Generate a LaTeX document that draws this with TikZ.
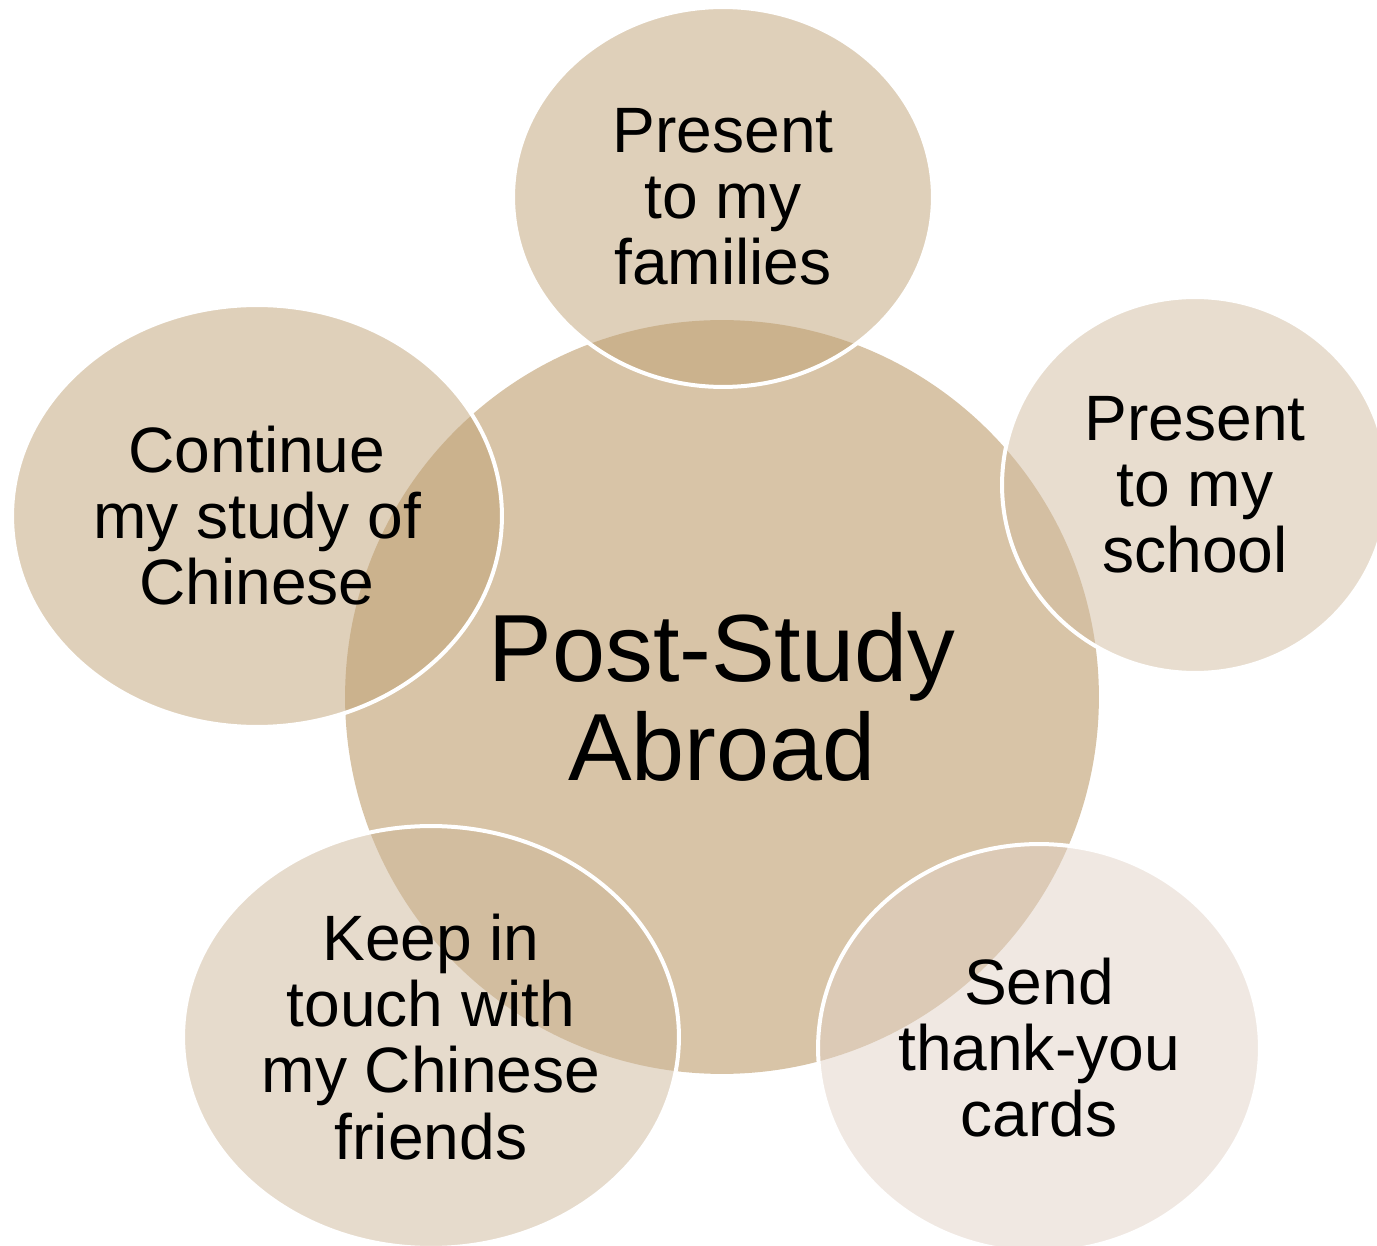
\documentclass[tikz,border=0pt]{standalone}
\usepackage{fontspec}
\setmainfont{Liberation Sans}
\usetikzlibrary{shapes.geometric}
\definecolor{hubfill}{RGB}{216,196,167}
\definecolor{darktan}{RGB}{191,161,117}
\definecolor{midtan}{RGB}{209,187,159}
\definecolor{softtan}{RGB}{205,183,153}
\definecolor{palefill}{RGB}{225,209,197}
\begin{document}
\begin{tikzpicture}[x=0.02cm, y=-0.02cm,
    bubble/.style={ellipse, draw=white, line width=0.08cm, fill opacity=0.5, text opacity=1,
      inner sep=0pt, align=center, font=\fontsize{36.5}{37.6}\selectfont}]
    \useasboundingbox (0,0) rectangle (1377,1246);
    \coordinate (M) at (722,697);
    \coordinate (T) at (723,197);
    \coordinate (R) at (1195,485);
    \coordinate (BR) at (1039,1048);
    \coordinate (BL) at (431,1037);
    \coordinate (L) at (257,516);
    \node[circle, fill=hubfill, minimum size=15.08cm, inner sep=0pt, align=center,
      font=\fontsize{54.3}{56.3}\selectfont] (hub) at (M) {Post-Study\\Abroad};
    \node[bubble, fill=darktan, minimum width=8.4cm, minimum height=7.6cm] (families) at (T) {Present\\to my\\families};
    \node[bubble, fill=midtan, minimum width=7.72cm, minimum height=7.52cm] (school) at (R) {Present\\to my\\school};
    \node[bubble, fill=palefill, minimum width=8.84cm, minimum height=8.16cm] (cards) at (BR) {Send\\thank-you\\cards};
    \node[bubble, fill=softtan, minimum width=9.92cm, minimum height=8.44cm] (friends) at (BL) {Keep in\\touch with\\my Chinese\\friends};
    \node[bubble, fill=darktan, minimum width=9.8cm, minimum height=8.44cm] (chinese) at (L) {Continue\\my study of\\Chinese};
\end{tikzpicture}
\end{document}
